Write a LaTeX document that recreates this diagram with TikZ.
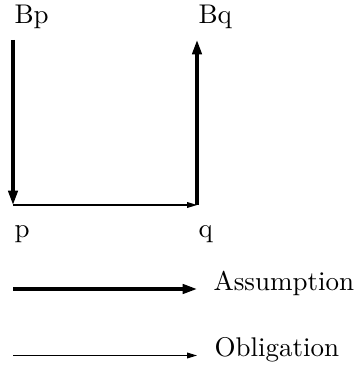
\documentclass[tikz,border=0pt]{standalone}
\usetikzlibrary{arrows.meta,positioning}

\begin{document}
\begin{tikzpicture}[x=0.385pt, y=-0.385pt,
  >={Triangle[length=5.5pt,width=3.6pt]},
  assume/.style={->, line width=1.2pt},
  oblig/.style={->, line width=0.4pt, >={Triangle[length=3.8pt,width=2.2pt]}},
  lbl/.style={inner sep=0pt, anchor=base west, font=\fontsize{10.4}{12}\selectfont}]
\useasboundingbox (0,0) rectangle (353,366);
% corners of the square
\coordinate (cBp) at (13,40); \coordinate (cp) at (13,205);
\coordinate (cq) at (197,205); \coordinate (cBq) at (197,40);
\node[lbl] (Bp) at (14,24) {Bp}; \node[lbl] (Bq) at (198,24) {Bq};
\node[lbl] (p) at (14,237.5) {p}; \node[lbl] (q) at (198,237.5) {q};
\draw[assume] (cBp) -- (cp);
\draw[oblig] (cp) -- (cq);
\draw[assume] (cq) -- (cBq);
% legend
\coordinate (a0) at (13,289); \coordinate (a1) at (197,289);
\coordinate (o0) at (13,355.5); \coordinate (o1) at (197,355.5);
\node[lbl] (asm) at (213,290) {Assumption};
\node[lbl] (obl) at (214,356) {Obligation};
\draw[assume] (a0) -- (a1);
\draw[oblig] (o0) -- (o1);
\end{tikzpicture}
\end{document}
